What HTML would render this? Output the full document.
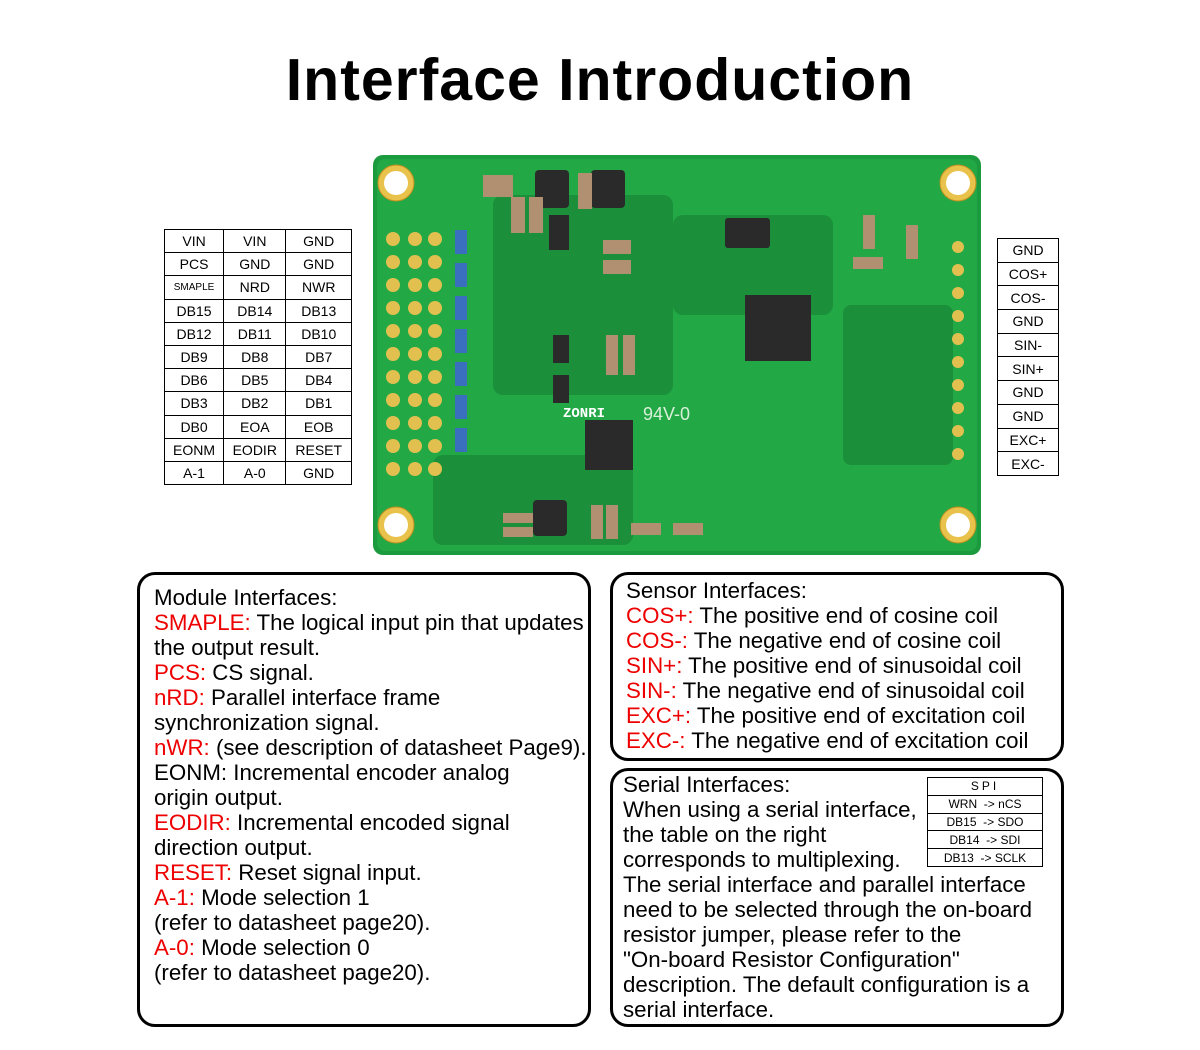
<!DOCTYPE html>
<html><head><meta charset="utf-8"><style>
body{margin:0;width:1200px;height:1050px;background:#fff;position:relative;font-family:"Liberation Sans",sans-serif;overflow:hidden}
.title{position:absolute;top:46px;left:0;width:1200px;text-align:center;font-size:59px;font-weight:bold;letter-spacing:1px;color:#000}
table{border-collapse:collapse;position:absolute}
td{border:1px solid #000;text-align:center;font-size:14px;padding:0;color:#000}
.box{position:absolute;border:3px solid #000;border-radius:18px;box-sizing:border-box;font-size:22.3px;line-height:25px;color:#000;white-space:nowrap}
.r{color:#e00}
</style></head><body>
<div class="title">Interface Introduction</div>

<table style="left:164px;top:229px;width:188px">
<tr style="height:23.2px"><td>VIN</td><td>VIN</td><td>GND</td></tr>
<tr style="height:23.2px"><td>PCS</td><td>GND</td><td>GND</td></tr>
<tr style="height:23.2px"><td style="font-size:10px">SMAPLE</td><td>NRD</td><td>NWR</td></tr>
<tr style="height:23.2px"><td>DB15</td><td>DB14</td><td>DB13</td></tr>
<tr style="height:23.2px"><td>DB12</td><td>DB11</td><td>DB10</td></tr>
<tr style="height:23.2px"><td>DB9</td><td>DB8</td><td>DB7</td></tr>
<tr style="height:23.2px"><td>DB6</td><td>DB5</td><td>DB4</td></tr>
<tr style="height:23.2px"><td>DB3</td><td>DB2</td><td>DB1</td></tr>
<tr style="height:23.2px"><td>DB0</td><td>EOA</td><td>EOB</td></tr>
<tr style="height:23.2px"><td>EONM</td><td>EODIR</td><td>RESET</td></tr>
<tr style="height:23.2px"><td>A-1</td><td>A-0</td><td>GND</td></tr>
</table>

<table style="left:997px;top:238px;width:62px">
<tr style="height:23.7px"><td>GND</td></tr><tr style="height:23.7px"><td>COS+</td></tr>
<tr style="height:23.7px"><td>COS-</td></tr><tr style="height:23.7px"><td>GND</td></tr>
<tr style="height:23.7px"><td>SIN-</td></tr><tr style="height:23.7px"><td>SIN+</td></tr>
<tr style="height:23.7px"><td>GND</td></tr><tr style="height:23.7px"><td>GND</td></tr>
<tr style="height:23.7px"><td>EXC+</td></tr><tr style="height:23.7px"><td>EXC-</td></tr>
</table>

<svg style="position:absolute;left:373px;top:155px" width="608" height="400" viewBox="0 0 608 400">
<rect x="0" y="0" width="608" height="400" rx="10" fill="#1c9a3e"/>
<rect x="4" y="4" width="600" height="392" rx="8" fill="#23a846"/>
<g fill="#1b8f3a">
<rect x="120" y="40" width="180" height="200" rx="10"/>
<rect x="300" y="60" width="160" height="100" rx="10"/>
<rect x="470" y="150" width="110" height="160" rx="8"/>
<rect x="60" y="300" width="200" height="90" rx="10"/>
</g>
<g fill="#e8c24a" stroke="#c09020" stroke-width="1">
<circle cx="23" cy="28" r="18"/><circle cx="585" cy="28" r="18"/>
<circle cx="23" cy="370" r="18"/><circle cx="585" cy="370" r="18"/>
</g>
<g fill="#fff"><circle cx="23" cy="28" r="12"/><circle cx="585" cy="28" r="12"/><circle cx="23" cy="370" r="12"/><circle cx="585" cy="370" r="12"/></g>
<g fill="#e2c050">
<circle cx="20" cy="84" r="7"/><circle cx="42" cy="84" r="7"/><circle cx="62" cy="84" r="7"/>
<circle cx="20" cy="107" r="7"/><circle cx="42" cy="107" r="7"/><circle cx="62" cy="107" r="7"/>
<circle cx="20" cy="130" r="7"/><circle cx="42" cy="130" r="7"/><circle cx="62" cy="130" r="7"/>
<circle cx="20" cy="153" r="7"/><circle cx="42" cy="153" r="7"/><circle cx="62" cy="153" r="7"/>
<circle cx="20" cy="176" r="7"/><circle cx="42" cy="176" r="7"/><circle cx="62" cy="176" r="7"/>
<circle cx="20" cy="199" r="7"/><circle cx="42" cy="199" r="7"/><circle cx="62" cy="199" r="7"/>
<circle cx="20" cy="222" r="7"/><circle cx="42" cy="222" r="7"/><circle cx="62" cy="222" r="7"/>
<circle cx="20" cy="245" r="7"/><circle cx="42" cy="245" r="7"/><circle cx="62" cy="245" r="7"/>
<circle cx="20" cy="268" r="7"/><circle cx="42" cy="268" r="7"/><circle cx="62" cy="268" r="7"/>
<circle cx="20" cy="291" r="7"/><circle cx="42" cy="291" r="7"/><circle cx="62" cy="291" r="7"/>
<circle cx="20" cy="314" r="7"/><circle cx="42" cy="314" r="7"/><circle cx="62" cy="314" r="7"/>
<circle cx="585" cy="92" r="6"/><circle cx="585" cy="115" r="6"/><circle cx="585" cy="138" r="6"/><circle cx="585" cy="161" r="6"/><circle cx="585" cy="184" r="6"/><circle cx="585" cy="207" r="6"/><circle cx="585" cy="230" r="6"/><circle cx="585" cy="253" r="6"/><circle cx="585" cy="276" r="6"/><circle cx="585" cy="299" r="6"/>
</g>
<g fill="#3a6fc0">
<rect x="82" y="75" width="12" height="24"/><rect x="82" y="108" width="12" height="24"/><rect x="82" y="141" width="12" height="24"/><rect x="82" y="174" width="12" height="24"/><rect x="82" y="207" width="12" height="24"/><rect x="82" y="240" width="12" height="24"/><rect x="82" y="273" width="12" height="24"/>
</g>
<g fill="#2a2a2a">
<rect x="372" y="140" width="66" height="66"/>
<rect x="162" y="15" width="34" height="38" rx="4"/><rect x="218" y="15" width="34" height="38" rx="4"/>
<rect x="352" y="63" width="45" height="30" rx="3"/>
<rect x="212" y="265" width="48" height="50" />
<rect x="160" y="345" width="34" height="36" rx="4"/>
<rect x="176" y="60" width="20" height="35"/>
<rect x="180" y="180" width="16" height="28"/>
<rect x="180" y="220" width="16" height="28"/>
</g>
<g fill="#b09070">
<rect x="110" y="20" width="30" height="22"/><rect x="138" y="42" width="14" height="36"/><rect x="156" y="42" width="14" height="36"/>
<rect x="205" y="18" width="14" height="36"/><rect x="230" y="85" width="28" height="14"/><rect x="230" y="105" width="28" height="14"/>
<rect x="233" y="180" width="12" height="40"/><rect x="250" y="180" width="12" height="40"/>
<rect x="490" y="60" width="12" height="34"/><rect x="533" y="70" width="12" height="34"/>
<rect x="480" y="102" width="30" height="12"/>
<rect x="130" y="358" width="30" height="10"/><rect x="130" y="372" width="30" height="10"/>
<rect x="218" y="350" width="12" height="34"/><rect x="233" y="350" width="12" height="34"/>
<rect x="258" y="368" width="30" height="12"/><rect x="300" y="368" width="30" height="12"/>
</g>
<text x="190" y="262" fill="#fff" font-size="14" font-weight="bold" font-family="Liberation Mono">ZONRI</text>
<text x="270" y="265" fill="#d8f0d8" font-size="18" font-family="Liberation Sans">94V-0</text>
</svg>

<div class="box" style="left:137px;top:572px;width:454px;height:455px;padding:10px 0 0 14px">
Module Interfaces:<br>
<span class="r">SMAPLE:</span> The logical input pin that updates<br>the output result.<br>
<span class="r">PCS:</span> CS signal.<br>
<span class="r">nRD:</span> Parallel interface frame<br>synchronization signal.<br>
<span class="r">nWR:</span> (see description of datasheet Page9).<br>
EONM: Incremental encoder analog<br>origin output.<br>
<span class="r">EODIR:</span> Incremental encoded signal<br>direction output.<br>
<span class="r">RESET:</span> Reset signal input.<br>
<span class="r">A-1:</span> Mode selection 1<br>(refer to datasheet page20).<br>
<span class="r">A-0:</span> Mode selection 0<br>(refer to datasheet page20).
</div>

<div class="box" style="left:610px;top:572px;width:454px;height:189px;padding:3px 0 0 13px">
Sensor Interfaces:<br>
<span class="r">COS+:</span> The positive end of cosine coil<br>
<span class="r">COS-:</span> The negative end of cosine coil<br>
<span class="r">SIN+:</span> The positive end of sinusoidal coil<br>
<span class="r">SIN-:</span> The negative end of sinusoidal coil<br>
<span class="r">EXC+:</span> The positive end of excitation coil<br>
<span class="r">EXC-:</span> The negative end of excitation coil
</div>

<div class="box" style="left:610px;top:768px;width:454px;height:259px;padding:1px 0 0 10px">
Serial Interfaces:<br>
When using a serial interface,<br>the table on the right<br>corresponds to multiplexing.<br>
The serial interface and parallel interface<br>need to be selected through the on-board<br>resistor jumper, please refer to the<br>"On-board Resistor Configuration"<br>description. The default configuration is a<br>serial interface.
</div>

<table style="left:927px;top:777px;width:116px">
<tr style="height:17.8px"><td style="font-size:12px;letter-spacing:3px">SPI</td></tr>
<tr style="height:17.8px"><td style="font-size:12px">WRN&nbsp; -&gt; nCS</td></tr>
<tr style="height:17.8px"><td style="font-size:12px">DB15&nbsp; -&gt; SDO</td></tr>
<tr style="height:17.8px"><td style="font-size:12px">DB14&nbsp; -&gt; SDI</td></tr>
<tr style="height:17.8px"><td style="font-size:12px">DB13&nbsp; -&gt; SCLK</td></tr>
</table>
</body></html>
